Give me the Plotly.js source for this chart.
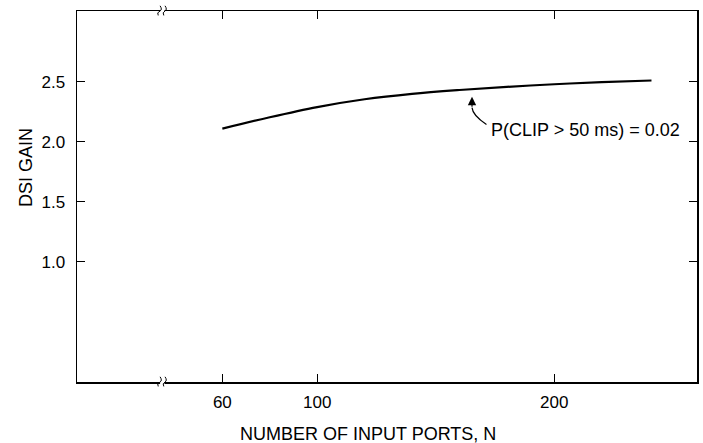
<!DOCTYPE html>
<html>
<head>
<meta charset="utf-8">
<script src="https://cdn.plot.ly/plotly-3.0.1.min.js"></script>
<style>html,body{margin:0;padding:0;background:#fff;}#chart{width:703px;height:443px;}</style>
</head>
<body>
<div id="chart"></div>
<script>
// Data
const ports = [60, 80, 100, 120, 140, 160, 180, 200, 220, 241];
const dsiGain = [2.11, 2.205, 2.29, 2.355, 2.40, 2.432, 2.458, 2.48, 2.497, 2.511];
const xTicks = [60, 100, 200];
const yTicks = [1.0, 1.5, 2.0, 2.5];
const yTickText = ["1.0", "1.5", "2.0", "2.5"];
const labelText = "P(CLIP > 50 ms) = 0.02";
const arrowTip = {x: 165.3, y: 2.375};
const arrowTail = {x: 171.4, y: 2.145};
const labelPoint = {x: 172.5, y: 2.10};

const font = "Liberation Sans, Arial, sans-serif";

const trace = {
  x: ports, y: dsiGain, type: "scatter", mode: "lines",
  line: {color: "#000", width: 2.2, shape: "spline", smoothing: 1},
  hoverinfo: "skip", showlegend: false
};

const breakShapes = [];
[0, 1].forEach(function (yp) {
  breakShapes.push({type: "rect", xref: "paper", yref: "paper", x0: 0.134, x1: 0.141, y0: yp - 0.006, y1: yp + 0.006,
    fillcolor: "#fff", line: {width: 0}, layer: "above"});
});

// curved leader line of the callout (from label towards the curve)
const headLen = 0.09;
const ctrl = {x: arrowTip.x + 0.3, y: (arrowTip.y + arrowTail.y) / 2 - 0.04};
const leader = {
  type: "path", xref: "x", yref: "y", layer: "above",
  path: "M" + arrowTail.x + "," + arrowTail.y + " Q" + ctrl.x + "," + ctrl.y + " " + arrowTip.x + "," + (arrowTip.y - headLen),
  line: {color: "#000", width: 1.2}
};

const layout = {
  width: 703, height: 443,
  margin: {l: 77, r: 6, t: 11, b: 61},
  paper_bgcolor: "#fff", plot_bgcolor: "#fff",
  font: {family: font, size: 17, color: "#000"},
  xaxis: {
    range: [-1.3, 260.2], tickvals: xTicks, ticktext: xTicks.map(String),
    ticks: "inside", ticklen: 8, tickwidth: 1, tickcolor: "#000",
    showline: true, linecolor: "#000", linewidth: 1.5, mirror: "ticks",
    showgrid: false, zeroline: false, tickfont: {size: 17},
    ticklabelstandoff: 4, fixedrange: true
  },
  yaxis: {
    range: [0, 3.09], tickvals: yTicks, ticktext: yTickText,
    ticks: "inside", ticklen: 8, tickwidth: 1, tickcolor: "#000",
    showline: true, linecolor: "#000", linewidth: 1.5, mirror: "ticks",
    showgrid: false, zeroline: false, tickfont: {size: 17},
    ticklabelstandoff: 7, fixedrange: true
  },
  shapes: breakShapes.concat([
    {type: "path", xref: "paper", yref: "paper", layer: "above",
     path: "M0.131,-0.012 Q0.128,-0.004 0.134,0 Q0.138,0.004 0.134,0.014", line: {color: "#000", width: 1}},
    {type: "path", xref: "paper", yref: "paper", layer: "above",
     path: "M0.140,-0.012 Q0.137,-0.004 0.142,0 Q0.146,0.004 0.142,0.014", line: {color: "#000", width: 1}},
    {type: "path", xref: "paper", yref: "paper", layer: "above",
     path: "M0.131,0.988 Q0.128,0.996 0.134,1 Q0.138,1.004 0.134,1.014", line: {color: "#000", width: 1}},
    {type: "path", xref: "paper", yref: "paper", layer: "above",
     path: "M0.140,0.988 Q0.137,0.996 0.142,1 Q0.146,1.004 0.142,1.014", line: {color: "#000", width: 1}},
    leader
  ]),
  annotations: [
    {x: arrowTip.x, y: arrowTip.y, xref: "x", yref: "y", text: " ", font: {size: 1},
     showarrow: true, arrowhead: 2, arrowsize: 1.4, arrowwidth: 1.2, arrowcolor: "#000",
     ax: 0, ay: 12, standoff: 0, startstandoff: 0},
    {x: labelPoint.x, y: labelPoint.y, xref: "x", yref: "y", text: labelText,
     showarrow: false, xanchor: "left", yanchor: "middle", font: {size: 18}},
    {x: 0.469, y: -0.14, xref: "paper", yref: "paper", text: "NUMBER OF INPUT PORTS, N",
     showarrow: false, xanchor: "center", yanchor: "middle", font: {size: 18}},
    {x: -0.082, y: 0.577, xref: "paper", yref: "paper", text: "DSI GAIN", textangle: -90,
     showarrow: false, xanchor: "center", yanchor: "middle", font: {size: 18}}
  ]
};

Plotly.newPlot("chart", [trace], layout, {displayModeBar: false, staticPlot: true});
</script>
</body>
</html>
